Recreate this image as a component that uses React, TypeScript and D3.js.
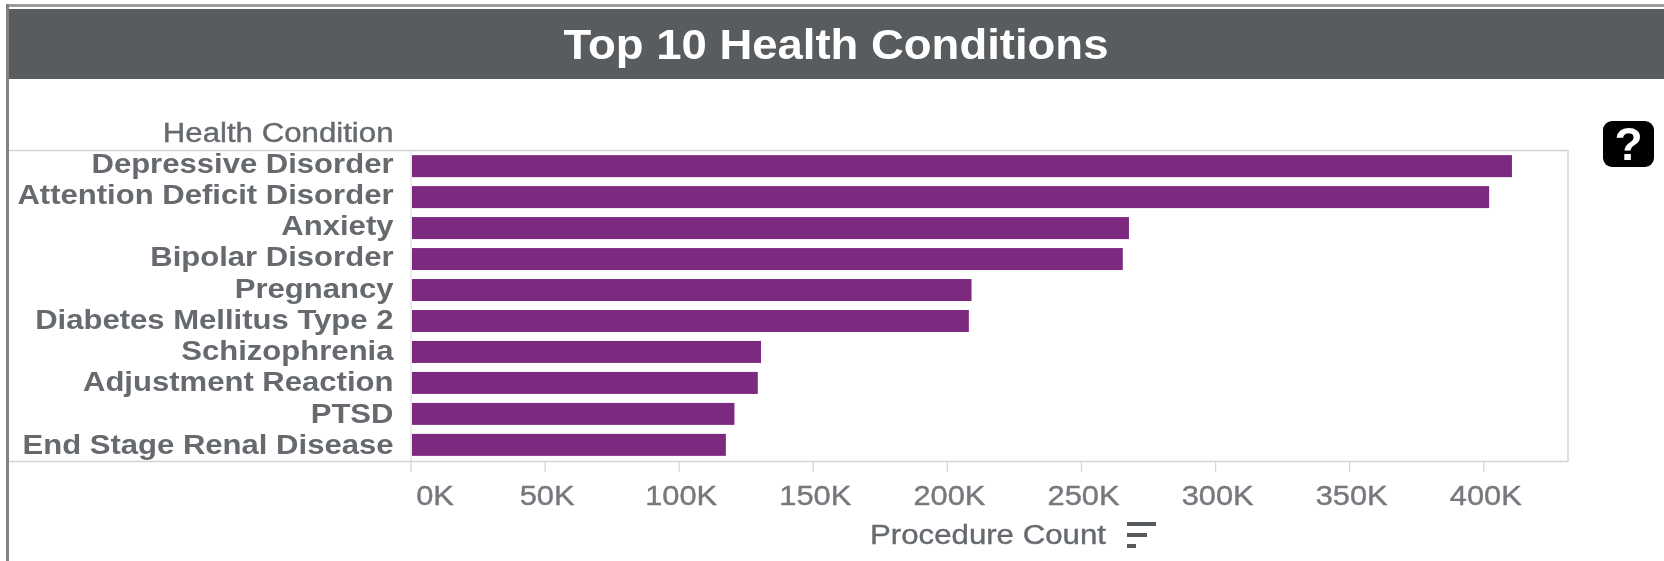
import React from "react";
import * as d3 from "d3";

const titleText = "Top 10 Health Conditions";
const yAxisTitle = "Health Condition";
const xAxisTitle = "Procedure Count";
const categories = [
  "Depressive Disorder",
  "Attention Deficit Disorder",
  "Anxiety",
  "Bipolar Disorder",
  "Pregnancy",
  "Diabetes Mellitus Type 2",
  "Schizophrenia",
  "Adjustment Reaction",
  "PTSD",
  "End Stage Renal Disease",
];
const procedureCounts = [410500, 402000, 267700, 265400, 209000, 208000, 130500, 129300, 120600, 117400];
const xTicks = [0, 50000, 100000, 150000, 200000, 250000, 300000, 350000, 400000];

const W = 1664;
const H = 561;
const font = "'Liberation Sans', Arial, sans-serif";
const textColor = "#666a6e";
const plot = { left: 411, right: 1568, top: 150.5, bottom: 461.5, frameLeft: 9 };

function WideText(props: {
  x: number;
  y: number;
  sx: number;
  size: number;
  anchor: "start" | "middle" | "end";
  bold?: boolean;
  fill: string;
  stroke?: string;
  children: string;
}) {
  return (
    <text
      transform={`translate(${props.x},${props.y}) scale(${props.sx},1)`}
      textAnchor={props.anchor}
      fontFamily={font}
      fontWeight={props.bold ? 700 : 400}
      fontSize={props.size}
      fill={props.fill}
      stroke={props.stroke ?? "none"}
      strokeWidth={props.stroke ? 0.4 : 0}
    >
      {props.children}
    </text>
  );
}

export default function App() {
  const x = d3.scaleLinear().domain([0, 431400]).range([plot.left, plot.right]);
  const y = d3
    .scaleBand<string>()
    .domain(categories)
    .range([150.5, 460.5])
    .paddingInner(0.29)
    .paddingOuter(0.15);
  const labelY = d3.scalePoint<string>().domain(categories).range([172.5, 454]);

  return (
    <svg
      width={W}
      height={H}
      viewBox={`0 0 ${W} ${H}`}
      style={{ position: "absolute", left: 0, top: 0, background: "#fff" }}
    >
      <defs>
        <filter id="soft" x="-2%" y="-2%" width="104%" height="104%">
          <feGaussianBlur stdDeviation="0.6" />
        </filter>
      </defs>
      <g filter="url(#soft)">
        <rect x={6} y={4} width={W - 6} height={3} fill="#9a9c9e" />
        <rect x={6} y={4} width={3} height={H - 4} fill="#7f8183" />
        <rect x={9} y={9} width={W - 9} height={70} fill="#585c5f" />
        <WideText x={836} y={59} sx={1.083} size={42} anchor="middle" bold fill="#fff">
          {titleText}
        </WideText>

        <WideText x={393.5} y={141.5} sx={1.115} size={28} anchor="end" fill={textColor} stroke={textColor}>
          {yAxisTitle}
        </WideText>

        <path
          d={`M${plot.frameLeft},${plot.top}H${plot.right}V${plot.bottom}H${plot.frameLeft}`}
          fill="none"
          stroke="#d4d4d4"
          strokeWidth={1.5}
        />
        <line x1={plot.left} x2={plot.left} y1={plot.top} y2={plot.bottom} stroke="#d9d9d9" strokeWidth={1} />

        {categories.map((c, i) => (
          <g key={c}>
            <rect
              x={x(0) + 1}
              y={y(c)}
              width={x(procedureCounts[i]) - x(0) - 1}
              height={y.bandwidth()}
              fill="#7b2a80"
            />
            <WideText x={393.5} y={labelY(c)!} sx={1.09} size={28.5} anchor="end" bold fill={textColor}>
              {c}
            </WideText>
          </g>
        ))}

        {xTicks.map((t) => (
          <g key={t}>
            <line x1={x(t)} x2={x(t)} y1={plot.bottom} y2={472} stroke="#d4d4d4" strokeWidth={1.2} />
            <WideText
              x={x(t) + (t === 0 ? 24 : 2)}
              y={505}
              sx={1.1}
              size={28}
              anchor="middle"
              fill="#75787b"
              stroke="#75787b"
            >
              {`${t / 1000}K`}
            </WideText>
          </g>
        ))}

        <WideText x={870} y={544} sx={1.115} size={28} anchor="start" fill={textColor} stroke={textColor}>
          {xAxisTitle}
        </WideText>
        <g fill="#555a5e">
          <rect x={1127} y={522} width={29} height={4} />
          <rect x={1127} y={533} width={20} height={4} />
          <rect x={1127} y={544} width={9} height={4} />
        </g>

        <rect x={1603} y={121} width={51} height={46} rx={9} fill="#000" />
        <text
          x={1628.5}
          y={160}
          textAnchor="middle"
          fontFamily={font}
          fontWeight={700}
          fontSize={46}
          fill="#fff"
        >
          ?
        </text>
      </g>
    </svg>
  );
}
